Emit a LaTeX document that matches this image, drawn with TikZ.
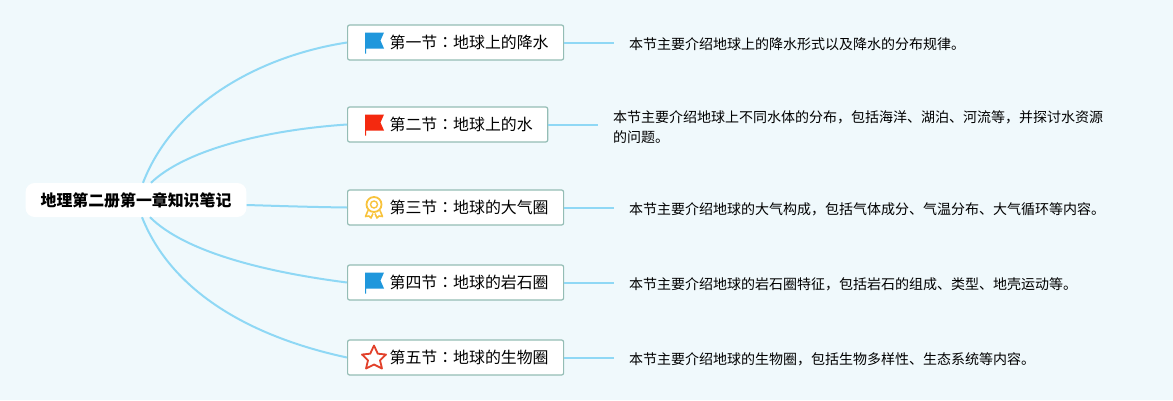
\documentclass[tikz,border=0pt]{standalone}
\usepackage{fontspec}
\setmainfont{Noto Sans CJK SC}
\newfontfamily\cjktc{Noto Sans CJK TC}
\definecolor{bgcol}{HTML}{F0F9FC}
\definecolor{linecol}{HTML}{8FD8F5}
\definecolor{boxcol}{HTML}{94BDB5}
\definecolor{flagblue}{HTML}{1F97DC}
\definecolor{flagred}{HTML}{F4290F}
\definecolor{medalcol}{HTML}{F8C33C}
\definecolor{starcol}{HTML}{E2402A}
\newcommand{\seccolon}{{\cjktc：}}
\newcommand{\sectitle}[1]{\hspace*{27pt}\raisebox{-1pt}{#1}}
\tikzset{
  rootnode/.style={fill=white, rounded corners=9pt, inner xsep=15pt, minimum height=34pt, font=\fontsize{15.9pt}{19pt}\selectfont\bfseries},
  secnode/.style={draw=boxcol, fill=white, line width=1.2pt, rounded corners=2pt, inner xsep=15pt, minimum height=35pt, font=\fontsize{15.9pt}{19pt}\selectfont},
  leafnode/.style={align=left, inner xsep=15pt, font=\fontsize{14pt}{20pt}\selectfont},
  conn/.style={draw=linecol, line width=2pt},
  pics/flagicon/.style={code={
    \fill[#1] (18,-10) -- (37,-10) -- (33.5,-2) -- (37,6) -- (19,6) -- (19,11) -- (18,11) -- cycle;
  }},
  pics/medalicon/.style={code={
    \draw[medalcol, line width=1.8pt] (27,-3) circle (7.5);
    \draw[medalcol, line width=1.4pt] (27,-3) circle (3.5);
    \draw[medalcol, line width=1.6pt, line join=round] (21,3) -- (18.5,9) -- (22,8.5) -- (24,10.5) -- (26,6);
    \draw[medalcol, line width=1.6pt, line join=round] (33,3) -- (35.5,9) -- (32,8.5) -- (30,10.5) -- (28,6);
  }},
  pics/staricon/.style={code={
    \draw[starcol, line width=1.8pt, line join=round]
      (27,-12) -- (30.8,-3.8) -- (39,-3) -- (33,2.8) -- (35,11) -- (27,7) -- (19,11) -- (21,2.8) -- (15,-3) -- (23.2,-3.8) -- cycle;
  }}
}
\begin{document}
\begin{tikzpicture}[x=1pt, y=-1pt]
  \fill[bgcol] (0,0) rectangle (1173,400);
  \useasboundingbox (0,0) rectangle (1173,400);

  \node[rootnode] (root) at (136,200) {地理第二册第一章知识笔记};

  \node[secnode, anchor=west] (sec1) at (347,42.5) {\sectitle{第一节\seccolon 地球上的降水}};
  \node[secnode, anchor=west] (sec2) at (347,124.5) {\sectitle{第二节\seccolon 地球上的水}};
  \node[secnode, anchor=west] (sec3) at (347,207.5) {\sectitle{第三节\seccolon 地球的大气圈}};
  \node[secnode, anchor=west] (sec4) at (347,282.5) {\sectitle{第四节\seccolon 地球的岩石圈}};
  \node[secnode, anchor=west] (sec5) at (347,357.5) {\sectitle{第五节\seccolon 地球的生物圈}};

  \node[leafnode, anchor=west] (leaf1) at (614,44) {本节主要介绍地球上的降水形式以及降水的分布规律。};
  \node[leafnode, anchor=west] (leaf2) at (598,127) {本节主要介绍地球上不同水体的分布，包括海洋、湖泊、河流等，并探讨水资源\\的问题。};
  \node[leafnode, anchor=west] (leaf3) at (614,209) {本节主要介绍地球的大气构成，包括气体成分、气温分布、大气循环等内容。};
  \node[leafnode, anchor=west] (leaf4) at (614,284) {本节主要介绍地球的岩石圈特征，包括岩石的组成、类型、地壳运动等。};
  \node[leafnode, anchor=west] (leaf5) at (614,359) {本节主要介绍地球的生物圈，包括生物多样性、生态系统等内容。};

  % icons
  \pic at (sec1.west) {flagicon=flagblue};
  \pic at (sec2.west) {flagicon=flagred};
  \pic at (sec3.west) {medalicon};
  \pic at (sec4.west) {flagicon=flagblue};
  \pic at (sec5.west) {staricon};

  % branches
  \coordinate (roottop1) at ([xshift=7pt]root.north);
  \coordinate (roottop2) at ([xshift=15pt]root.north);
  \coordinate (rootbot1) at ([xshift=6pt]root.south);
  \coordinate (rootbot2) at ([xshift=14pt]root.south);
  \coordinate (rootside) at ([yshift=-5pt]root.east);
  \draw[conn] (roottop1) .. controls (175,100) and (265,55) .. (sec1.west);
  \draw[conn] (roottop2) .. controls (185,150) and (265,130) .. (sec2.west);
  \draw[conn] (rootside) .. controls (280,206) and (310,207) .. (sec3.west);
  \draw[conn] (rootbot2) .. controls (185,252) and (265,272) .. (sec4.west);
  \draw[conn] (rootbot1) .. controls (175,300) and (265,340) .. (sec5.west);

  \foreach \n in {1,...,5}
    \draw[conn] (sec\n.east) -- (sec\n.east -| leaf\n.west);
\end{tikzpicture}
\end{document}
